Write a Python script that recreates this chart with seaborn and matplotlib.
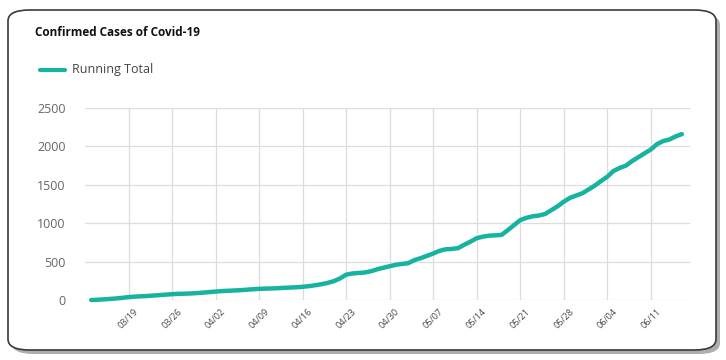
import numpy as np
import pandas as pd
import matplotlib.pyplot as plt
from matplotlib.patches import FancyBboxPatch
import seaborn as sns

# Daily running total of confirmed cases, 03/13 .. 06/16
running_total = [
    0, 3, 8, 14, 20, 28, 38,                  # 03/13 - 03/19
    44, 48, 52, 58, 64, 70, 76,               # 03/20 - 03/26
    80, 82, 85, 90, 96, 103, 110,             # 03/27 - 04/02
    116, 120, 124, 128, 134, 140, 145,        # 04/03 - 04/09
    148, 150, 154, 158, 162, 166, 172,        # 04/10 - 04/16
    180, 192, 205, 222, 245, 280, 330,        # 04/17 - 04/23
    345, 352, 358, 375, 400, 420, 440,        # 04/24 - 04/30
    458, 470, 480, 520, 545, 575, 605,        # 05/01 - 05/07
    640, 660, 665, 675, 720, 760, 805,        # 05/08 - 05/14
    825, 838, 842, 848, 910, 975, 1040,       # 05/15 - 05/21
    1070, 1090, 1100, 1120, 1170, 1220, 1280, # 05/22 - 05/28
    1330, 1360, 1390, 1440, 1490, 1550, 1605, # 05/29 - 06/04
    1680, 1720, 1750, 1810, 1860, 1910, 1960, # 06/05 - 06/11
    2030, 2070, 2090, 2130, 2160,             # 06/12 - 06/16
]
dates = pd.date_range("2020-03-13", periods=len(running_total), freq="D")
tick_labels = ["03/19", "03/26", "04/02", "04/09", "04/16", "04/23", "04/30",
               "05/07", "05/14", "05/21", "05/28", "06/04", "06/11"]
y_ticks = [0, 500, 1000, 1500, 2000, 2500]

df = pd.DataFrame({"day": np.arange(len(dates)), "total": running_total})

sns.set_style("white")
plt.rcParams["font.family"] = ["Open Sans", "DejaVu Sans"]

fig = plt.figure(figsize=(7.26, 3.6), dpi=100)

# card with shadow
shadow = FancyBboxPatch((12 / 726, 6 / 360), 708 / 726, 340 / 360,
                        boxstyle="round,pad=0,rounding_size=0.03",
                        transform=fig.transFigure, facecolor="#8a8a8a",
                        edgecolor="none", alpha=0.7, zorder=0)
card = FancyBboxPatch((8 / 726, 10 / 360), 708 / 726, 340 / 360,
                      boxstyle="round,pad=0,rounding_size=0.03",
                      transform=fig.transFigure, facecolor="white",
                      edgecolor="#3a3a3a", linewidth=1.2, zorder=1)
fig.patches.extend([shadow, card])

ax = fig.add_axes([85 / 726, 60 / 360, 605 / 726, 192 / 360])
ax.set_zorder(2)
ax.patch.set_alpha(0)

sns.lineplot(data=df, x="day", y="total", ax=ax, color="#17b3a0",
             linewidth=3.2, label="Running Total", legend=False)
for ln in ax.lines:
    ln.set_clip_on(False)
    ln.set_solid_capstyle("round")
    ln.set_solid_joinstyle("round")

tick_pos = [int(np.where(dates.strftime("%m/%d") == t)[0][0]) for t in tick_labels]
ax.set_xticks(tick_pos)
ax.set_xticklabels(tick_labels, rotation=45, fontsize=6.5, color="#444444")
ax.set_yticks(y_ticks)
ax.set_yticklabels([str(v) for v in y_ticks], fontsize=9, color="#666666")
ax.set_xlim(-1, 96.3)
ax.set_ylim(0, 2500)
ax.grid(True, color="#dddddd", linewidth=0.9)
ax.tick_params(axis="both", length=0)
ax.tick_params(axis="y", pad=14)
ax.tick_params(axis="x", pad=5)
for s in ax.spines.values():
    s.set_visible(False)
ax.set_xlabel("")
ax.set_ylabel("")

fig.text(35 / 726, 1 - 32 / 360, "Confirmed Cases of Covid-19", fontsize=8.5,
         fontweight="bold", color="#111111", va="center", zorder=3)
fig.add_artist(plt.Line2D([40 / 726, 65 / 726], [1 - 70 / 360, 1 - 70 / 360],
                          color="#17b3a0", linewidth=3, transform=fig.transFigure,
                          zorder=3))
fig.text(72 / 726, 1 - 70 / 360, "Running Total", fontsize=9,
         color="#444444", va="center", zorder=3)

fig.savefig("out.png", dpi=100)
